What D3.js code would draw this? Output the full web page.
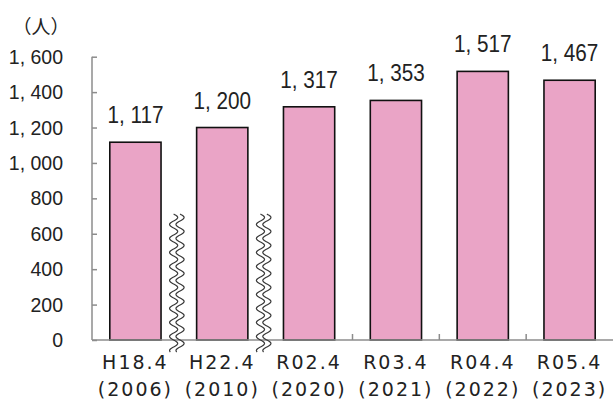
<!DOCTYPE html>
<html>
<head>
<meta charset="utf-8">
<script src="https://cdn.jsdelivr.net/npm/d3@7"></script>
<style>
  html, body { margin: 0; padding: 0; background: #fff; }
  svg { display: block; }
</style>
</head>
<body>
<svg id="chart" width="613" height="401"></svg>
<script>
// Staff count at each April survey
const periods = ["H18.4", "H22.4", "R02.4", "R03.4", "R04.4", "R05.4"];
const years = ["(2006)", "(2010)", "(2020)", "(2021)", "(2022)", "(2023)"];
const counts = [1117, 1200, 1317, 1353, 1517, 1467];
const yTicks = [0, 200, 400, 600, 800, 1000, 1200, 1400, 1600];
// Gaps in the time axis get a break mark (after these category indices)
const breaksAfter = [0, 1];

(function draw() {
  const svg = d3.select("#chart");
  const plotLeft = 92, plotRight = 613, plotTop = 56.7, plotBottom = 340;

  const x = d3.scaleBand().domain(periods).range([plotLeft, plotRight])
    .paddingInner(0.41).paddingOuter(0.205);
  const y = d3.scaleLinear().domain([0, 1600]).range([plotBottom, plotTop]);

  const fmt = v => d3.format(",")(v).replace(",", ", ");

  const axisColor = "#8c8c8c";
  const textColor = "#222";

  // Bars
  svg.append("g").selectAll("rect").data(counts).join("rect")
    .attr("x", (d, i) => x(periods[i]))
    .attr("y", d => y(d))
    .attr("width", x.bandwidth())
    .attr("height", d => y(0) - y(d))
    .attr("fill", "#eaa4c6")
    .attr("stroke", "#111")
    .attr("stroke-width", 1.6);

  // Y axis with inward ticks
  const yAxis = d3.axisRight(y).tickValues(yTicks).tickSize(5).tickFormat("");
  const yg = svg.append("g").attr("transform", `translate(${plotLeft},0)`).call(yAxis);
  yg.select(".domain").remove();
  yg.selectAll(".tick line").attr("stroke", axisColor).attr("stroke-width", 1.5);
  svg.append("line")
    .attr("x1", plotLeft).attr("x2", plotLeft).attr("y1", y(1600)).attr("y2", y(0))
    .attr("stroke", axisColor).attr("stroke-width", 1.5);

  // Y tick labels
  svg.append("g").selectAll("text").data(yTicks).join("text")
    .attr("x", 63).attr("y", d => y(d))
    .attr("dy", "0.36em")
    .attr("text-anchor", "end")
    .attr("font-family", "Liberation Sans, Arial, sans-serif")
    .attr("font-size", 19.5)
    .attr("fill", textColor)
    .text(d => fmt(d));

  // Unit label
  svg.append("text")
    .attr("x", 41).attr("y", 34)
    .attr("text-anchor", "middle")
    .attr("font-family", "Noto Sans CJK JP, sans-serif")
    .attr("font-size", 19)
    .attr("fill", textColor)
    .text("（人）");

  // X axis baseline and separators between categories
  svg.append("line")
    .attr("x1", plotLeft).attr("x2", plotRight).attr("y1", y(0)).attr("y2", y(0))
    .attr("stroke", axisColor).attr("stroke-width", 1.5);
  const step = x.step();
  const sepIdx = d3.range(1, periods.length).filter(i => !breaksAfter.includes(i - 1));
  svg.append("g").selectAll("line").data(sepIdx).join("line")
    .attr("x1", i => plotLeft + i * step).attr("x2", i => plotLeft + i * step)
    .attr("y1", y(0)).attr("y2", y(0) - 6)
    .attr("stroke", axisColor).attr("stroke-width", 1.5);

  // Wavy break marks in the gaps
  const waveTop = 214, waveBottom = 352, amp = 4.2, period = 14;
  const wave = d3.line().curve(d3.curveBasis);
  breaksAfter.forEach(i => {
    const cx = (x(periods[i]) + x.bandwidth() + x(periods[i + 1])) / 2 - 2;
    [-3.2, 3.2].forEach(off => {
      const pts = d3.range(waveTop, waveBottom + 0.01, 1).map(yy =>
        [cx + off + amp * Math.sin((yy - waveTop) / period * 2 * Math.PI), yy]);
      svg.append("path")
        .attr("d", wave(pts))
        .attr("fill", "none")
        .attr("stroke", "#3a3a3a")
        .attr("stroke-width", 1.2);
    });
  });

  // Value labels above bars
  svg.append("g").selectAll("text").data(counts).join("text")
    .attr("transform", (d, i) =>
      `translate(${x(periods[i]) + x.bandwidth() / 2},${y(d) - 19}) scale(0.9,1)`)
    .attr("text-anchor", "middle")
    .attr("font-family", "Liberation Sans, Arial, sans-serif")
    .attr("font-size", 23)
    .attr("fill", textColor)
    .text(d => fmt(d));

  // Category labels (two lines)
  const xl = svg.append("g").selectAll("g").data(periods).join("g")
    .attr("transform", d => `translate(${x(d) + x.bandwidth() / 2},0)`);
  xl.append("text")
    .attr("y", 369)
    .attr("text-anchor", "middle")
    .attr("font-family", "DejaVu Sans, sans-serif")
    .attr("font-size", 19)
    .attr("letter-spacing", 2)
    .attr("fill", textColor)
    .text(d => d);
  xl.append("text")
    .attr("y", 396)
    .attr("text-anchor", "middle")
    .attr("font-family", "DejaVu Sans, sans-serif")
    .attr("font-size", 19)
    .attr("letter-spacing", 2)
    .attr("fill", textColor)
    .text((d, i) => years[i]);
})();
</script>
</body>
</html>
